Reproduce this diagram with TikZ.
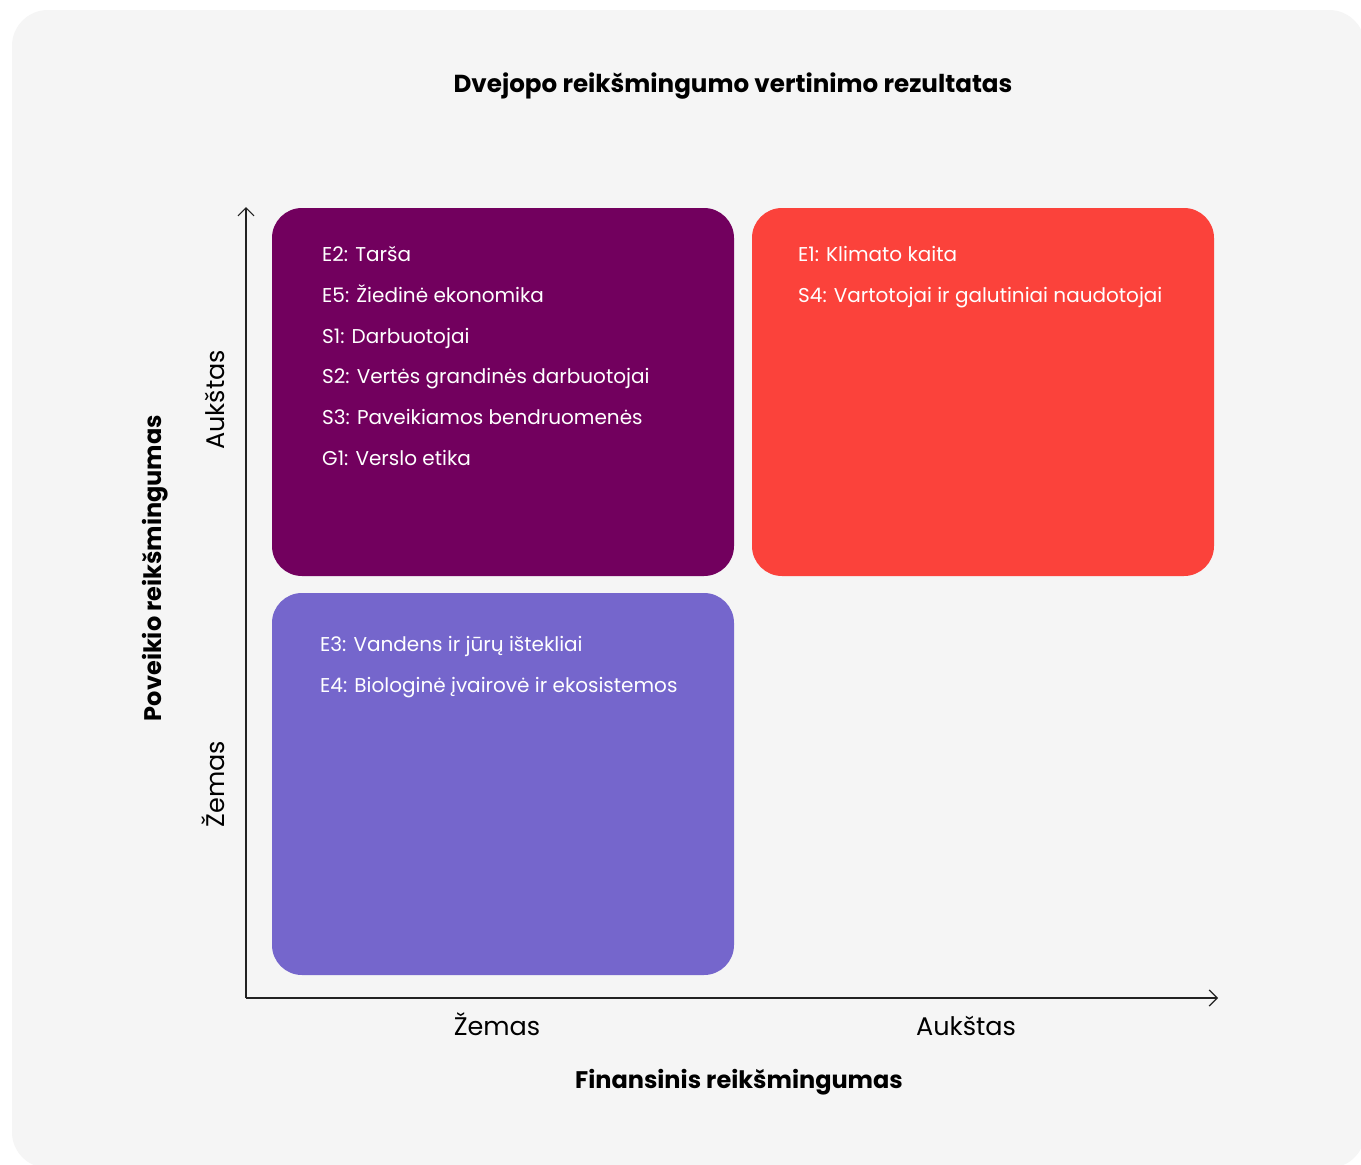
\documentclass[tikz,border=0pt]{standalone}
\usepackage{fontspec}
\setmainfont{Poppins}
\usetikzlibrary{arrows.meta}
\definecolor{bgc}{HTML}{F5F5F5}
\definecolor{purp}{HTML}{72005E}
\definecolor{redc}{HTML}{FB423B}
\definecolor{bluec}{HTML}{7566CC}
\definecolor{axisc}{HTML}{222222}
\tikzset{
  quad/.style={rounded corners=30pt},
  item/.style={anchor=base west, inner sep=0pt, text=white, font=\fontsize{20}{24}\selectfont},
  tick/.style={anchor=base, inner sep=0pt, font=\fontsize{25.5}{28}\selectfont},
  axtitle/.style={anchor=base, inner sep=0pt, font=\fontsize{24}{28}\selectfont\bfseries},
  maintitle/.style={anchor=base, inner sep=0pt, font=\fontsize{24.6}{28}\selectfont\bfseries},
  axline/.style={draw=axisc, line width=1.2pt, -{Straight Barb[length=8pt,width=16pt,line width=1.2pt]}},
}
\begin{document}
\begin{tikzpicture}[x=1pt,y=-1pt]
\useasboundingbox (0,0) rectangle (1361,1165);
\fill[white] (0,0) rectangle (1361,1165);
\fill[bgc, rounded corners=36pt] (12,10) rectangle (1365,1168);
% quadrants
\fill[purp, quad] (272,208) rectangle (734,576);
\fill[redc, quad] (752,208) rectangle (1214,576);
\fill[bluec, quad] (272,593) rectangle (734,975);
% axes
\coordinate (o) at (246,998);
\coordinate (ytop) at (246,207);
\coordinate (xend) at (1218,998);
\draw[axline] (o) -- (ytop);
\draw[axline] (o) -- (xend);
% title
\node[maintitle] (title) at (733,92) {Dvejopo reikšmingumo vertinimo rezultatas};
% purple items
\node[item] (e2) at (322,261) {E2: Tarša};
\node[item] (e5) at (322,302) {E5: Žiedinė ekonomika};
\node[item] (s1) at (322,343) {S1: Darbuotojai};
\node[item] (s2) at (322,383) {S2: Vertės grandinės darbuotojai};
\node[item] (s3) at (322,424) {S3: Paveikiamos bendruomenės};
\node[item] (g1) at (322,465) {G1: Verslo etika};
% red items
\node[item] (e1) at (798,261) {E1: Klimato kaita};
\node[item] (s4) at (798,302) {S4: Vartotojai ir galutiniai naudotojai};
% blue items
\node[item] (e3) at (320,651) {E3: Vandens ir jūrų ištekliai};
\node[item] (e4) at (320,692) {E4: Biologinė įvairovė ir ekosistemos};
% ticks
\node[tick] (xlow) at (497,1035) {Žemas};
\node[tick] (xhigh) at (966,1035) {Aukštas};
\node[tick, rotate=90] (yhigh) at (224,400) {Aukštas};
\node[tick, rotate=90] (ylow) at (224,784) {Žemas};
% axis titles
\node[axtitle] (xtitle) at (739,1088) {Finansinis reikšmingumas};
\node[axtitle, rotate=90] (ytitle) at (161,568) {Poveikio reikšmingumas};
\end{tikzpicture}
\end{document}
